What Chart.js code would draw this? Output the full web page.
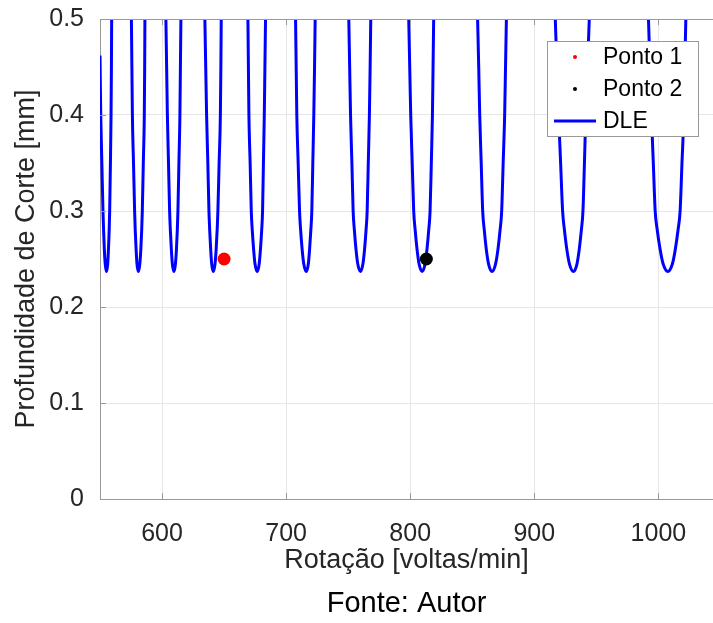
<!DOCTYPE html>
<html>
<head>
<meta charset="utf-8">
<title>DLE</title>
<script src="https://cdn.jsdelivr.net/npm/chart.js@4.4.1/dist/chart.umd.min.js"></script>
<style>
  html, body { margin: 0; padding: 0; background: #fff; }
  #wrap { width: 713px; height: 623px; }
</style>
</head>
<body>
<div id="wrap"><canvas id="dle" width="713" height="623"></canvas></div>
<script>
// rotacao [voltas/min] lida em cada lobulo, null separa os lobulos
var dleRot = [
  550.0, 550.3, 550.6, 551.5, 552.4, 552.9, 553.5, 554.2, 555.2, 556.2, 556.8, 557.4, 557.8, 558.4, 558.9, 559.2, 559.4, null,
  575.3, 575.7, 576.1, 577.0, 577.9, 578.4, 579.1, 579.8, 580.9, 582.1, 582.9, 583.6, 584.1, 584.9, 585.7, 586.0, 586.2, null,
  603.1, 603.7, 604.3, 605.2, 606.1, 606.7, 607.5, 608.3, 609.6, 610.8, 611.6, 612.3, 612.8, 613.6, 614.4, 614.8, 615.2, null,
  634.5, 635.2, 635.9, 636.9, 637.8, 638.4, 639.2, 640.0, 641.3, 642.7, 643.6, 644.4, 645.0, 646.0, 647.0, 647.4, 647.7, null,
  669.2, 669.6, 670.0, 671.0, 671.9, 672.7, 673.8, 674.9, 676.7, 678.3, 679.3, 680.3, 681.0, 681.7, 682.4, 682.9, 683.4, null,
  707.6, 708.1, 708.6, 709.7, 710.8, 711.7, 712.9, 714.2, 716.2, 717.9, 718.9, 719.9, 720.7, 721.5, 722.3, 722.9, 723.4, null,
  750.5, 751.2, 751.9, 753.0, 754.0, 755.0, 756.3, 757.7, 759.9, 761.9, 763.2, 764.4, 765.3, 766.2, 767.1, 767.7, 768.2, null,
  798.8, 799.6, 800.4, 801.6, 802.8, 804.0, 805.5, 807.1, 809.6, 812.0, 813.5, 814.9, 816.0, 817.0, 817.9, 818.4, 818.9, null,
  854.3, 855.2, 856.0, 857.2, 858.4, 859.7, 861.3, 863.1, 865.9, 868.8, 870.7, 872.4, 873.7, 874.9, 876.1, 876.8, 877.5, null,
  916.9, 918.2, 919.6, 921.2, 922.8, 924.3, 926.2, 928.3, 931.6, 934.4, 936.2, 937.9, 939.2, 940.4, 941.5, 942.9, 944.3, null,
  992.0, 993.2, 994.4, 995.9, 997.4, 999.1, 1001.4, 1003.8, 1007.6, 1011.3, 1013.6, 1015.8, 1017.5, 1019.0, 1020.5, 1021.3, 1022.1
];
// profundidade de corte [mm] nos mesmos pontos
var dleDepth = [
  0.462, 0.43, 0.40, 0.35, 0.30, 0.28, 0.26, 0.245, 0.237, 0.245, 0.26, 0.28, 0.30, 0.35, 0.40, 0.45, 0.50, null,
  0.50, 0.45, 0.40, 0.35, 0.30, 0.28, 0.26, 0.245, 0.237, 0.245, 0.26, 0.28, 0.30, 0.35, 0.40, 0.45, 0.50, null,
  0.50, 0.45, 0.40, 0.35, 0.30, 0.28, 0.26, 0.245, 0.237, 0.245, 0.26, 0.28, 0.30, 0.35, 0.40, 0.45, 0.50, null,
  0.50, 0.45, 0.40, 0.35, 0.30, 0.28, 0.26, 0.245, 0.237, 0.245, 0.26, 0.28, 0.30, 0.35, 0.40, 0.45, 0.50, null,
  0.50, 0.45, 0.40, 0.35, 0.30, 0.28, 0.26, 0.245, 0.237, 0.245, 0.26, 0.28, 0.30, 0.35, 0.40, 0.45, 0.50, null,
  0.50, 0.45, 0.40, 0.35, 0.30, 0.28, 0.26, 0.245, 0.237, 0.245, 0.26, 0.28, 0.30, 0.35, 0.40, 0.45, 0.50, null,
  0.50, 0.45, 0.40, 0.35, 0.30, 0.28, 0.26, 0.245, 0.237, 0.245, 0.26, 0.28, 0.30, 0.35, 0.40, 0.45, 0.50, null,
  0.50, 0.45, 0.40, 0.35, 0.30, 0.28, 0.26, 0.245, 0.237, 0.245, 0.26, 0.28, 0.30, 0.35, 0.40, 0.45, 0.50, null,
  0.50, 0.45, 0.40, 0.35, 0.30, 0.28, 0.26, 0.245, 0.237, 0.245, 0.26, 0.28, 0.30, 0.35, 0.40, 0.45, 0.50, null,
  0.50, 0.45, 0.40, 0.35, 0.30, 0.28, 0.26, 0.245, 0.237, 0.245, 0.26, 0.28, 0.30, 0.35, 0.40, 0.45, 0.50, null,
  0.50, 0.45, 0.40, 0.35, 0.30, 0.28, 0.26, 0.245, 0.237, 0.245, 0.26, 0.28, 0.30, 0.35, 0.40, 0.45, 0.50
];
var ponto1 = [{x: 650, y: 0.25}];
var ponto2 = [{x: 813, y: 0.25}];
var xTicks = [600, 700, 800, 900, 1000];
var yTicks = [0, 0.1, 0.2, 0.3, 0.4, 0.5];

var FONT = "'Liberation Sans', Arial, Helvetica, sans-serif";
var TEXT = '#262626';
var AXIS = '#999999';
var GRID = '#e6e6e6';

function dlePoints() {
  var pts = [];
  for (var i = 0; i < dleRot.length; i++) {
    pts.push({x: dleRot[i], y: dleDepth[i]});
  }
  return pts;
}

//ticks para dentro e borda superior, estilo matlab
var innerTicks = {
  id: 'innerTicks',
  afterDatasetsDraw: function(chart) {
    var ctx = chart.ctx, a = chart.chartArea;
    var sx = chart.scales.x, sy = chart.scales.y;
    ctx.save();
    ctx.strokeStyle = AXIS;
    ctx.lineWidth = 1;
    ctx.beginPath();
    ctx.moveTo(a.left, a.top + 0.5);
    ctx.lineTo(a.right, a.top + 0.5);
    xTicks.forEach(function(v) {
      var px = Math.round(sx.getPixelForValue(v)) + 0.5;
      ctx.moveTo(px, a.bottom);
      ctx.lineTo(px, a.bottom - 6);
      ctx.moveTo(px, a.top);
      ctx.lineTo(px, a.top + 6);
    });
    yTicks.forEach(function(v) {
      var py = Math.round(sy.getPixelForValue(v)) + 0.5;
      ctx.moveTo(a.left, py);
      ctx.lineTo(a.left + 6, py);
    });
    ctx.stroke();
    ctx.restore();
  }
};

//legenda com caixa dentro do grafico
var boxLegend = {
  id: 'boxLegend',
  afterDraw: function(chart) {
    var ctx = chart.ctx, a = chart.chartArea;
    var w = 151, h = 95;
    var x0 = Math.round(a.right - 15 - w), y0 = Math.round(a.top + 22);
    ctx.save();
    ctx.fillStyle = '#fff';
    ctx.fillRect(x0, y0, w, h);
    ctx.strokeStyle = AXIS;
    ctx.lineWidth = 1;
    ctx.strokeRect(x0 + 0.5, y0 + 0.5, w, h);
    ctx.font = '23px ' + FONT;
    ctx.textBaseline = 'middle';
    ctx.textAlign = 'left';
    chart.data.datasets.forEach(function(ds, i) {
      var cy = y0 + 16 + i * 32;
      if (ds.showLine) {
        ctx.strokeStyle = ds.borderColor;
        ctx.lineWidth = ds.borderWidth;
        ctx.beginPath();
        ctx.moveTo(x0 + 7, cy);
        ctx.lineTo(x0 + 49, cy);
        ctx.stroke();
      } else {
        ctx.fillStyle = ds.backgroundColor;
        ctx.beginPath();
        ctx.arc(x0 + 28, cy, 2, 0, Math.PI * 2);
        ctx.fill();
      }
      ctx.fillStyle = '#000';
      ctx.fillText(ds.label, x0 + 56, cy + 1);
    });
    ctx.restore();
  }
};

new Chart(document.getElementById('dle'), {
  type: 'scatter',
  data: {
    datasets: [{
      label: 'Ponto 1',
      data: ponto1,
      backgroundColor: '#ff0000',
      borderColor: '#ff0000',
      pointRadius: 6.5,
      pointHoverRadius: 6.5,
      borderWidth: 0
    }, {
      label: 'Ponto 2',
      data: ponto2,
      backgroundColor: '#000000',
      borderColor: '#000000',
      pointRadius: 6.5,
      pointHoverRadius: 6.5,
      borderWidth: 0
    }, {
      label: 'DLE',
      data: dlePoints(),
      showLine: true,
      spanGaps: false,
      borderColor: '#0000ff',
      backgroundColor: '#0000ff',
      borderWidth: 3,
      pointRadius: 0,
      pointHoverRadius: 0,
      cubicInterpolationMode: 'monotone',
      clip: 0
    }]
  },
  options: {
    responsive: false,
    animation: false,
    events: [],
    layout: { autoPadding: false, padding: { top: 19, right: 0, bottom: 0, left: 0 } },
    plugins: {
      legend: { display: false },
      tooltip: { enabled: false },
      title: {
        display: true,
        position: 'bottom',
        fullSize: false,
        text: 'Fonte: Autor',
        color: '#000',
        font: { family: FONT, size: 29, weight: 'normal' },
        padding: { top: 7, bottom: 2 }
      }
    },
    scales: {
      x: {
        type: 'linear',
        min: 550,
        max: 1044,
        afterBuildTicks: function(s) {
          s.ticks = xTicks.map(function(v) { return {value: v}; });
        },
        afterFit: function(s) {
          s.height = 80.2;
          s.paddingLeft = 0;
          s.paddingRight = 0;
        },
        grid: { color: GRID, drawTicks: false },
        border: { color: AXIS, width: 1 },
        ticks: {
          padding: 20,
          color: TEXT,
          font: { family: FONT, size: 25 },
          callback: function(v) { return String(v); }
        },
        title: {
          display: true,
          text: 'Rotação [voltas/min]',
          color: TEXT,
          font: { family: FONT, size: 27 },
          padding: { top: 0, bottom: 2 }
        }
      },
      y: {
        type: 'linear',
        min: 0,
        max: 0.5,
        afterBuildTicks: function(s) {
          s.ticks = yTicks.map(function(v) { return {value: v}; });
        },
        afterFit: function(s) {
          s.width = 100;
          s.paddingTop = 0;
          s.paddingBottom = 0;
        },
        grid: { color: GRID, drawTicks: false },
        border: { color: AXIS, width: 1 },
        ticks: {
          padding: 16,
          color: TEXT,
          font: { family: FONT, size: 25 },
          callback: function(v) { return String(Math.round(v * 10) / 10); }
        },
        title: {
          display: true,
          text: 'Profundidade de Corte [mm]',
          color: TEXT,
          font: { family: FONT, size: 27 },
          padding: { top: 10, bottom: 0 }
        }
      }
    }
  },
  plugins: [innerTicks, boxLegend]
});
</script>
</body>
</html>
